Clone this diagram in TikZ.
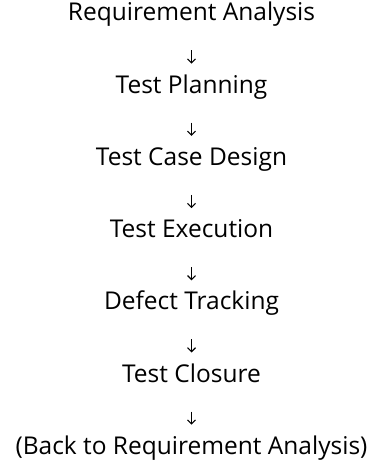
\documentclass[tikz,border=0pt]{standalone}
\usepackage{fontspec}
\setsansfont{Open Sans}
\usetikzlibrary{arrows.meta}
\tikzset{every picture/.style={/utils/exec={\sffamily}}}
\tikzset{stage/.style={anchor=base, inner sep=0pt, font=\fontsize{24.5}{28}\selectfont}}
\tikzset{flowarrow/.style={-{Straight Barb[length=4pt,width=8pt]}, line width=1.1pt, shorten <=29.5pt, shorten >=29.5pt}}

\begin{document}
\begin{tikzpicture}[x=1pt,y=-1pt]
  \useasboundingbox (0,0) rectangle (375,462);

  \node [stage] (req) at (191.5,21) {Requirement Analysis};
  \node [stage] (plan) at (191.5,93.2) {Test Planning};
  \node [stage] (design) at (191.5,165.4) {Test Case Design};
  \node [stage] (exec) at (191.5,237.6) {Test Execution};
  \node [stage] (defect) at (191.5,309.8) {Defect Tracking};
  \node [stage] (closure) at (191.5,382) {Test Closure};
  \node [stage] (back) at (191.5,454.2) {(Back to Requirement Analysis)};

  % arrows between the stages
  \foreach \a/\b in {req/plan, plan/design, design/exec, exec/defect, defect/closure, closure/back} {
    \draw [flowarrow] (\a.base) -- (\b.base);
  }
\end{tikzpicture}
\end{document}
